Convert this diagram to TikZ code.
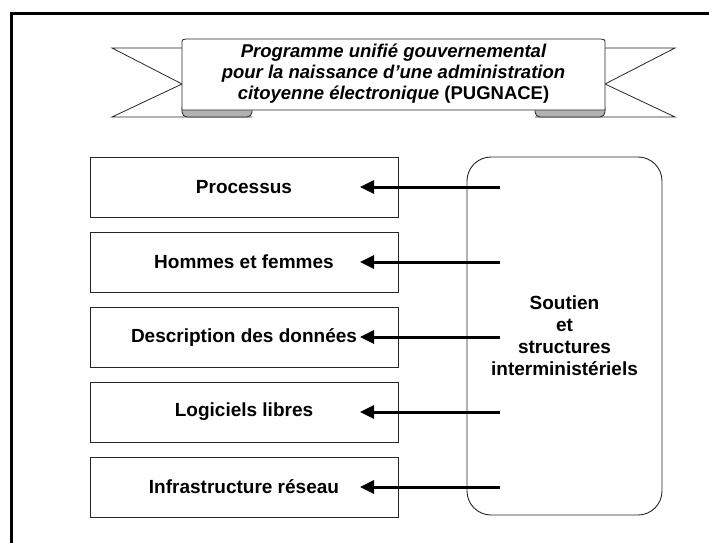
\documentclass[tikz,border=0pt]{standalone}
\usepackage{fontspec}
\setmainfont{Liberation Sans}
\usepackage{tikz}
\usetikzlibrary{arrows.meta}
\colorlet{MyLine}{black!85}
\colorlet{MyGray}{black!30}
\tikzset{
  boite/.style={draw=MyLine,line width=0.9pt,minimum width=308,minimum height=60,font=\bfseries\fontsize{19}{21}\selectfont},
  soutien/.style={draw=MyLine,line width=0.9pt,rounded corners=24,minimum width=195,minimum height=358,align=center,font=\bfseries\fontsize{19}{22}\selectfont},
  fleche/.style={line width=3pt,-{Triangle[length=14,width=13]}}
}

\begin{document}
\begin{tikzpicture}[x=1pt,y=-1pt]
    \useasboundingbox (0,0) rectangle (709,543);
    \draw[line width=3pt] (11.5,543) -- (11.5,14) -- (709,14);

    % banniere
    \draw[MyLine,line width=0.8pt] (182,48) -- (112,48) -- (182,84) -- (112,117) -- (252,117);
    \draw[MyLine,line width=0.8pt] (605,48) -- (675,48) -- (605,84) -- (675,117) -- (535,117);
    \draw[MyLine,line width=0.8pt,fill=MyGray,rounded corners=5] (182,103) rectangle (252,117);
    \draw[MyLine,line width=0.8pt,fill=MyGray,rounded corners=5] (535,103) rectangle (605,117);
    \draw[MyLine,line width=0.8pt,fill=white] (182,110) -- (182,43) .. controls (182,39) .. (192,39) -- (595,39) .. controls (605,39) .. (605,43) -- (605,110) -- cycle;
    \node[align=center,font=\bfseries\fontsize{18.5}{21}\selectfont] (titre) at (393.5,74)
        {\itshape Programme unifié gouvernemental\\ \itshape pour la naissance d’une administration\\ \itshape citoyenne électronique \upshape(PUGNACE)};

    % boites
    \foreach[count=\i] \txt in {Processus,Hommes et femmes,Description des données,Logiciels libres,Infrastructure réseau} {
        \node[boite] (b\i) at (244,112+75*\i) {\txt};
    }
    \node[soutien] (sout) at (564.5,336) {Soutien\\et\\structures\\interministériels};

    \foreach \i in {1,...,5} {
        \coordinate (s\i) at (500,112+75*\i);
        \coordinate (t\i) at (360,112+75*\i);
        \draw[fleche] (s\i) -- (t\i);
    }
\end{tikzpicture}
\end{document}
